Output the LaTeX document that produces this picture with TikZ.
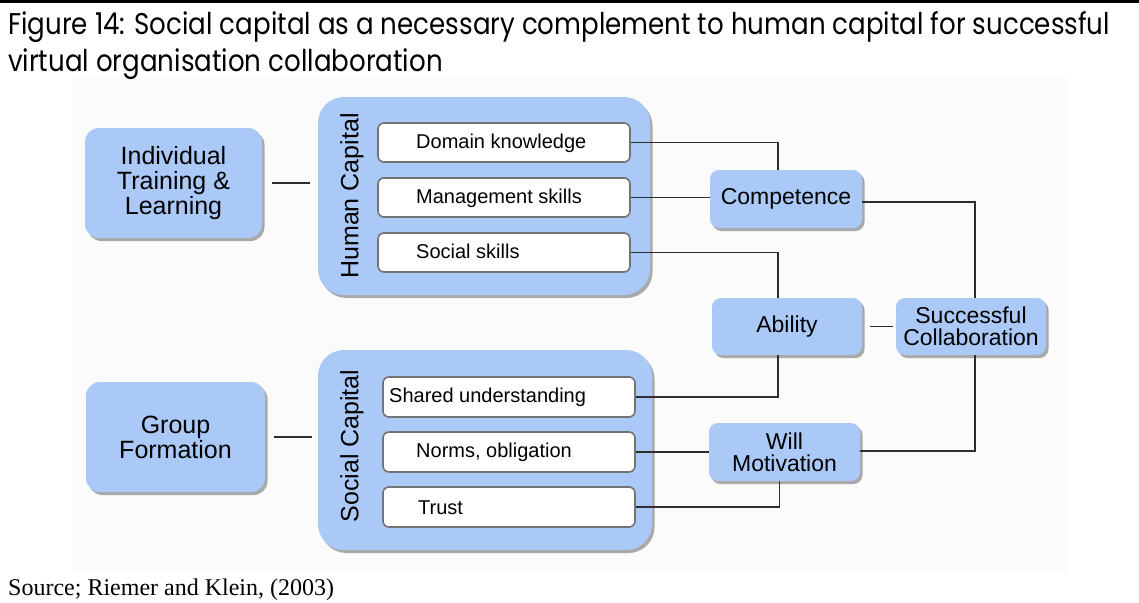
\documentclass[tikz,border=0pt]{standalone}
\usepackage{fontspec}
\setmainfont{Liberation Sans}
\newfontfamily\titlefont[FakeStretch=0.87]{Poppins}
\newfontfamily\srcfont{Liberation Serif}
\usetikzlibrary{shadows,calc}
\definecolor{boxblue}{RGB}{170,201,247}
\definecolor{linegray}{RGB}{45,45,45}
\definecolor{bgpale}{RGB}{251,251,251}
\tikzset{
  bluebox/.style={draw=none, fill=boxblue, rounded corners=#1, inner sep=0pt,
    drop shadow={shadow xshift=2.5pt, shadow yshift=-3pt, fill=black!55, opacity=0.6}},
  bluebox/.default=14pt,
  whitebox/.style={draw=black!55, line width=1.6pt, fill=white, rounded corners=6pt,
    minimum width=252pt, minimum height=39pt, inner sep=0pt},
  boxtext/.style={font=\fontsize{25}{25}\selectfont, align=center},
  smalltext/.style={font=\fontsize{20}{21}\selectfont, anchor=west, inner sep=0pt},
  captext/.style={font=\fontsize{25}{26}\selectfont, rotate=90},
  conn/.style={draw=linegray, line width=1.2pt}
}
\begin{document}
\begin{tikzpicture}[x=1pt,y=-1pt]
\useasboundingbox (0,0) rectangle (1139,602);
\fill[white] (0,0) rectangle (1139,602);
\fill[black] (0,0) rectangle (1139,3);
\fill[bgpale] (73,78) rectangle (1067,573);
% title
\node[anchor=base west, inner sep=0pt, font=\titlefont\fontsize{30}{32}\selectfont] (t1) at (8,35) {Figure 14: Social capital as a necessary complement to human capital for successful};
\node[anchor=base west, inner sep=0pt, font=\titlefont\fontsize{30}{32}\selectfont] (t2) at (8,71) {virtual organisation collaboration};
% source
\node[anchor=base west, inner sep=0pt, font=\srcfont\fontsize{24}{26}\selectfont] (src) at (8,595) {Source; Riemer and Klein, (2003)};

% left boxes
\node[bluebox, minimum width=177pt, minimum height=110pt, boxtext] (itl) at (173.5,183) {Individual\\Training \&\\Learning};
\node[bluebox, minimum width=179pt, minimum height=110pt, boxtext] (gf) at (175.5,437) {Group\\Formation};

% capital containers
\node[bluebox=26pt, minimum width=332pt, minimum height=198pt] (hc) at (484,196) {};
\node[bluebox=26pt, minimum width=334pt, minimum height=200pt] (sc) at (485,450) {};
\node[captext] (hct) at (352,196) {Human Capital};
\node[captext] (sct) at (352,446) {Social Capital};

% inner boxes
\node[whitebox] (dk) at (504,142.5) {};
\node[whitebox] (ms) at (504,197.5) {};
\node[whitebox] (ss) at (504,252.5) {};
\node[whitebox, minimum height=40pt] (su) at (509,397) {};
\node[whitebox, minimum height=40pt] (no) at (509,452) {};
\node[whitebox, minimum height=40pt] (tr) at (509,507) {};
\node[smalltext] (dkt) at (416,143) {Domain knowledge};
\node[smalltext] (mst) at (416,198) {Management skills};
\node[smalltext] (sst) at (416,251) {Social skills};
\node[smalltext] (sut) at (389,397) {Shared understanding};
\node[smalltext] (not) at (416,452) {Norms, obligation};
\node[smalltext] (trt) at (418,508) {Trust};

% right boxes
\node[bluebox=9pt, minimum width=152pt, minimum height=58pt, font=\fontsize{23}{23}\selectfont] (comp) at (786,199) {Competence};
\node[bluebox=9pt, minimum width=150pt, minimum height=57pt, font=\fontsize{23}{23}\selectfont] (abil) at (787,326.5) {Ability};
\node[bluebox=9pt, minimum width=150pt, minimum height=57pt, font=\fontsize{23}{22}\selectfont, align=center] (succ) at (971,326.5) {Successful\\Collaboration};
\node[bluebox=9pt, minimum width=151pt, minimum height=58pt, font=\fontsize{23}{22}\selectfont, align=center] (will) at (784.5,452) {Will\\Motivation};

% connectors
\draw[conn, shorten <=10pt, shorten >=8pt] (itl.east) -- (itl.east -| hc.west);
\draw[conn, shorten <=9pt, shorten >=6pt] (gf.east) -- (gf.east -| sc.west);
\draw[conn] (dk.east) -| ([xshift=-8pt]comp.north);
\draw[conn] (ms.east) -- (comp.west |- ms.east);
\draw[conn] (ss.east) -| ([xshift=-9pt]abil.north);
\draw[conn] (su.east) -| ([xshift=-9pt]abil.south);
\draw[conn] (no.east) -- (will.west |- no.east);
\draw[conn] (tr.east) -| ([xshift=-5pt]will.south);
\draw[conn] ([yshift=-3pt]comp.east) -| ([xshift=4pt]succ.north);
\draw[conn, shorten <=8pt, shorten >=3pt] (abil.east) -- (succ.west);
\draw[conn] ([xshift=4pt]succ.south) |- ([yshift=1pt]will.east);
\end{tikzpicture}
\end{document}
